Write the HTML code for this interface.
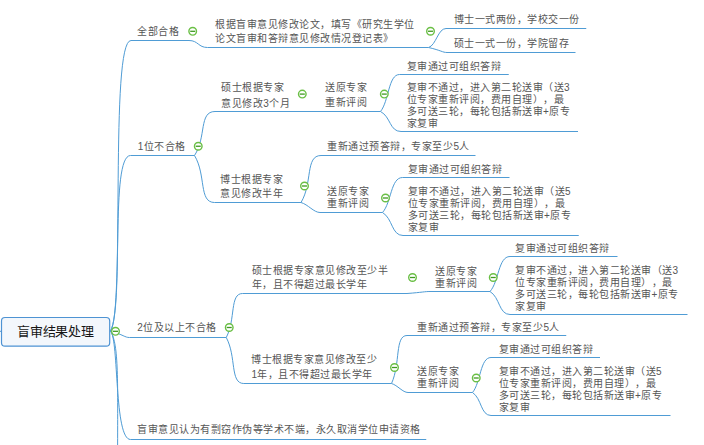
<!DOCTYPE html><html lang="zh-CN"><head><meta charset="utf-8"><style>
html,body{margin:0;padding:0;background:#fff;}
#c{text-spacing-trim:space-all;position:relative;width:704px;height:445px;overflow:hidden;background:#fff;font-family:"Liberation Sans",sans-serif;}
svg{position:absolute;left:0;top:0;}
.t{position:absolute;white-space:nowrap;line-height:12px;font-size:10px;letter-spacing:0.5px;color:#555555;}
.r{position:absolute;white-space:nowrap;line-height:14px;font-size:13px;letter-spacing:-0.25px;color:#151515;}
</style></head><body><div id="c">
<svg width="704" height="445" viewBox="0 0 704 445"><rect x="1.5" y="317.5" width="108.2" height="28.7" rx="3.5" ry="3.5" fill="#f3f7fc" stroke="#4e93d3" stroke-width="1.2"/><path d="M0 331.3H1.5" stroke="#4e93d3" stroke-width="1"/><path d="M110.5 331C125 312.6 109.6 40.5 131 40.5M131 40.5L189 40.5M189 40.5C198.25 40.50 198.25 47.5 207.5 47.5M207.5 47.5L428.6 47.5M428.6 47.5C436.08 45.22 438.00 28.5 446 28.5M446 28.5L586.25 28.5M428.6 47.5C441.11 50.40 442.58 52.5 447 52.5M447 52.5L575.5 52.5M110.5 331C124 304.8 109.85 155.5 130.5 155.5M130.5 155.5L194.5 155.5M110.5 331C123.35 334.77 124.86 337.5 129.4 337.5M129.4 337.5L226.25 337.5M110.5 331C119 340 114 439.5 130.5 439.5M130.5 439.5L426.25 439.5M110.5 331C119 345 117.6 380 117.6 460M194.5 155.5C206.59 137.24 198.70 111.5 215 111.5M215 111.5L380.5 111.5M380.5 111.5C389.01 101.07 388.29 74.5 399.5 74.5M399.5 74.5L508.75 74.5M380.5 111.5C390.75 116.70 389.52 131.5 401 131.5M401 131.5L578 131.5M194.5 155.5C206.30 175.00 198.60 202.5 214.5 202.5M214.5 202.5L301 202.5M301 202.5C312.80 183.00 305.10 155.5 321 155.5M321 155.5L475.5 155.5M301 202.5C308.03 204.50 313.92 212.5 320 212.5M320 212.5L382.5 212.5M382.5 212.5C391.46 202.63 390.70 177.5 402.5 177.5M402.5 177.5L509.5 177.5M382.5 212.5C392.75 218.48 391.52 235.5 403 235.5M403 235.5L578.75 235.5M226.25 337.5C235.84 319.24 229.58 293.5 242.5 293.5M242.5 293.5L407 293.5M407 293.5C422.64 292.34 424.48 291.5 430 291.5M430 291.5L490 291.5M490 291.5C498.96 281.63 498.20 256.5 510 256.5M510 256.5L617.5 256.5M490 291.5C500.00 297.48 498.80 314.5 510 314.5M510 314.5L687.5 314.5M226.25 337.5C236.57 356.59 229.84 383.5 243.75 383.5M243.75 383.5L391.5 383.5M391.5 383.5C400.64 363.58 394.68 335.5 407 335.5M407 335.5L566.25 335.5M391.5 383.5C397.61 385.30 402.72 392.5 408 392.5M408 392.5L472.5 392.5M472.5 392.5C480.79 382.63 480.08 357.5 491 357.5M491 357.5L600 357.5M472.5 392.5C481.75 398.48 480.64 415.5 491 415.5M491 415.5L670.5 415.5" fill="none" stroke="#4f9cd5" stroke-width="1"/><circle cx="115.5" cy="331.3" r="3.8" fill="#fff" stroke="#6abf45" stroke-width="1.4"/><path d="M113.0 331.3H118.0" stroke="#3f9a20" stroke-width="1.3"/><circle cx="192.7" cy="31.3" r="3.8" fill="#fff" stroke="#6abf45" stroke-width="1.4"/><path d="M190.2 31.3H195.2" stroke="#3f9a20" stroke-width="1.3"/><circle cx="430.5" cy="31.25" r="3.8" fill="#fff" stroke="#6abf45" stroke-width="1.4"/><path d="M428.0 31.25H433.0" stroke="#3f9a20" stroke-width="1.3"/><circle cx="198.25" cy="146.25" r="3.8" fill="#fff" stroke="#6abf45" stroke-width="1.4"/><path d="M195.75 146.25H200.75" stroke="#3f9a20" stroke-width="1.3"/><circle cx="302.3" cy="94.1" r="3.8" fill="#fff" stroke="#6abf45" stroke-width="1.4"/><path d="M299.8 94.1H304.8" stroke="#3f9a20" stroke-width="1.3"/><circle cx="384.3" cy="94.1" r="3.8" fill="#fff" stroke="#6abf45" stroke-width="1.4"/><path d="M381.8 94.1H386.8" stroke="#3f9a20" stroke-width="1.3"/><circle cx="304.5" cy="186" r="3.8" fill="#fff" stroke="#6abf45" stroke-width="1.4"/><path d="M302.0 186H307.0" stroke="#3f9a20" stroke-width="1.3"/><circle cx="385.5" cy="198" r="3.8" fill="#fff" stroke="#6abf45" stroke-width="1.4"/><path d="M383.0 198H388.0" stroke="#3f9a20" stroke-width="1.3"/><circle cx="229.25" cy="327.5" r="3.8" fill="#fff" stroke="#6abf45" stroke-width="1.4"/><path d="M226.75 327.5H231.75" stroke="#3f9a20" stroke-width="1.3"/><circle cx="412.5" cy="277.5" r="3.8" fill="#fff" stroke="#6abf45" stroke-width="1.4"/><path d="M410.0 277.5H415.0" stroke="#3f9a20" stroke-width="1.3"/><circle cx="493.25" cy="277.5" r="3.8" fill="#fff" stroke="#6abf45" stroke-width="1.4"/><path d="M490.75 277.5H495.75" stroke="#3f9a20" stroke-width="1.3"/><circle cx="394.5" cy="367.5" r="3.8" fill="#fff" stroke="#6abf45" stroke-width="1.4"/><path d="M392.0 367.5H397.0" stroke="#3f9a20" stroke-width="1.3"/><circle cx="476.25" cy="378" r="3.8" fill="#fff" stroke="#6abf45" stroke-width="1.4"/><path d="M473.75 378H478.75" stroke="#3f9a20" stroke-width="1.3"/></svg>
<div class="r" style="left:17px;top:325px">盲审结果处理</div>
<div class="t" style="left:137.20px;top:26.00px">全部合格</div>
<div class="t" style="left:215.25px;top:19.00px">根据盲审意见修改论文，填写《研究生学位</div>
<div class="t" style="left:215.25px;top:33.00px">论文盲审和答辩意见修改情况登记表》</div>
<div class="t" style="left:453.50px;top:14.00px">博士一式两份，学校交一份</div>
<div class="t" style="left:453.50px;top:38.00px">硕士一式一份，学院留存</div>
<div class="t" style="left:137.75px;top:141.00px">1位不合格</div>
<div class="t" style="left:221.20px;top:82.00px">硕士根据专家</div>
<div class="t" style="left:221.20px;top:98.00px">意见修改3个月</div>
<div class="t" style="left:325.00px;top:82.00px">送原专家</div>
<div class="t" style="left:325.00px;top:97.00px">重新评阅</div>
<div class="t" style="left:406.60px;top:61.00px">复审通过可组织答辩</div>
<div class="t" style="left:406.60px;top:82.00px">复审不通过，进入第二轮送审（送3</div>
<div class="t" style="left:406.60px;top:94.00px">位专家重新评阅，费用自理），最</div>
<div class="t" style="left:406.60px;top:106.00px">多可送三轮，每轮包括新送审+原专</div>
<div class="t" style="left:406.60px;top:118.00px">家复审</div>
<div class="t" style="left:220.20px;top:174.00px">博士根据专家</div>
<div class="t" style="left:220.20px;top:188.00px">意见修改半年</div>
<div class="t" style="left:327.40px;top:141.00px">重新通过预答辩，专家至少5人</div>
<div class="t" style="left:327.20px;top:186.00px">送原专家</div>
<div class="t" style="left:327.20px;top:198.00px">重新评阅</div>
<div class="t" style="left:407.60px;top:164.00px">复审通过可组织答辩</div>
<div class="t" style="left:407.60px;top:186.00px">复审不通过，进入第二轮送审（送5</div>
<div class="t" style="left:407.60px;top:198.00px">位专家重新评阅，费用自理），最</div>
<div class="t" style="left:407.60px;top:210.00px">多可送三轮，每轮包括新送审+原专</div>
<div class="t" style="left:407.60px;top:222.00px">家复审</div>
<div class="t" style="left:137.20px;top:322.00px">2位及以上不合格</div>
<div class="t" style="left:251.70px;top:265.00px">硕士根据专家意见修改至少半</div>
<div class="t" style="left:251.70px;top:279.00px">年，且不得超过最长学年</div>
<div class="t" style="left:435.00px;top:266.00px">送原专家</div>
<div class="t" style="left:435.00px;top:278.00px">重新评阅</div>
<div class="t" style="left:515.00px;top:243.00px">复审通过可组织答辩</div>
<div class="t" style="left:515.00px;top:265.00px">复审不通过，进入第二轮送审（送3</div>
<div class="t" style="left:515.00px;top:277.00px">位专家重新评阅，费用自理），最</div>
<div class="t" style="left:515.00px;top:289.00px">多可送三轮，每轮包括新送审+原专</div>
<div class="t" style="left:515.00px;top:301.00px">家复审</div>
<div class="t" style="left:251.40px;top:354.00px">博士根据专家意见修改至少</div>
<div class="t" style="left:251.40px;top:369.00px">1年，且不得超过最长学年</div>
<div class="t" style="left:417.40px;top:322.00px">重新通过预答辩，专家至少5人</div>
<div class="t" style="left:417.20px;top:366.00px">送原专家</div>
<div class="t" style="left:417.20px;top:378.00px">重新评阅</div>
<div class="t" style="left:498.60px;top:344.00px">复审通过可组织答辩</div>
<div class="t" style="left:498.60px;top:366.00px">复审不通过，进入第二轮送审（送5</div>
<div class="t" style="left:498.60px;top:378.00px">位专家重新评阅，费用自理），最</div>
<div class="t" style="left:498.60px;top:390.00px">多可送三轮，每轮包括新送审+原专</div>
<div class="t" style="left:498.60px;top:402.00px">家复审</div>
<div class="t" style="left:137.30px;top:424.00px">盲审意见认为有剽窃作伪等学术不端，永久取消学位申请资格</div>
</div></body></html>
